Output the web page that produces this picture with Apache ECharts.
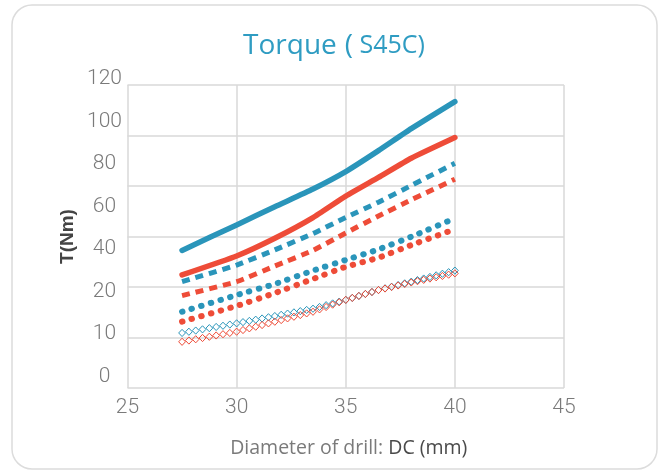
<!DOCTYPE html>
<html>
<head>
<meta charset="utf-8">
<script src="https://cdn.jsdelivr.net/npm/echarts@6/dist/echarts.min.js"></script>
<style>
html,body{margin:0;padding:0;background:#fff;}
#chart{width:668px;height:474px;}
</style>
</head>
<body>
<div id="chart"></div>
<script>
// ---- data ----
var xTicks = [25, 30, 35, 40, 45];
var yTickLabels = ['0', '10', '20', '40', '60', '80', '100', '120'];

var xs = [27.5, 30, 31.75, 33.5, 35, 36.5, 38, 40];
var blueSolid  = [54.5, 64.6, 71.8, 78.8, 85.7, 94.0, 102.7, 113.4];
var redSolid   = [44.8, 52.3, 59.3, 67.5, 76.0, 83.4, 91.0, 99.2];
var blueDashed = [42.1, 48.7, 54.7, 61.2, 67.5, 73.6, 80.2, 89.0];
var redDashed  = [36.6, 42.1, 48.3, 54.5, 61.4, 68.1, 74.5, 82.7];
var blueDotted = [30.2, 36.8, 41.2, 46.5, 50.7, 54.9, 59.9, 67.2];
var redDotted  = [26.3, 32.5, 37.6, 43.2, 48.0, 51.6, 56.6, 62.9];

var diaXs      = [27.5, 30, 33.5, 35, 36.5, 38, 40];
var blueDia    = [21.8, 25.6, 31.4, 34.9, 38.8, 42.1, 46.5];
var redDia     = [18.3, 22.3, 30.2, 34.9, 38.8, 41.8, 45.4];

var BLUE = '#2a95ba';
var RED = '#ee4c38';

function pairs(xArr, yArr) { return xArr.map(function (x, i) { return [x, yArr[i]]; }); }

function lineSeries(name, yArr, color, kind) {
  var ls = { color: color, width: 5.5 };
  if (kind === 'dashed') { ls.type = [8, 6]; ls.width = 5; ls.cap = 'butt'; }
  if (kind === 'dotted') { ls.type = [0.5, 9.5]; ls.width = 6; ls.cap = 'round'; }
  if (kind === 'solid') { ls.cap = 'round'; ls.join = 'round'; }
  return {
    name: name, type: 'line', xAxisIndex: 0, yAxisIndex: 0,
    data: pairs(xs, yArr), showSymbol: false, symbol: 'none', smooth: 0.15,
    lineStyle: ls, itemStyle: { color: color }, z: 3
  };
}

function diamondChain(name, xArr, yArr, color) {
  var pts = pairs(xArr, yArr);
  return {
    name: name, type: 'custom', xAxisIndex: 0, yAxisIndex: 0,
    data: pts, encode: { x: 0, y: 1 }, z: 2,
    renderItem: function (params, api) {
      var i = params.dataIndex;
      if (i >= pts.length - 1) return { type: 'group', children: [] };
      var a = api.coord(pts[i]);
      var b = api.coord(pts[i + 1]);
      var dx = b[0] - a[0], dy = b[1] - a[1];
      var L = Math.sqrt(dx * dx + dy * dy);
      var n = Math.max(1, Math.round(L / 6.6));
      var last = (i === pts.length - 2);
      var children = [];
      for (var k = 0; k < n + (last ? 1 : 0); k++) {
        var t = k / n;
        var cx = a[0] + dx * t, cy = a[1] + dy * t;
        children.push({
          type: 'polygon',
          shape: { points: [[cx, cy - 3.6], [cx + 3.4, cy], [cx, cy + 3.6], [cx - 3.4, cy]] },
          style: { fill: 'none', stroke: color, lineWidth: 1 }
        });
      }
      return { type: 'group', children: children };
    }
  };
}

var chart = echarts.init(document.getElementById('chart'), null, { renderer: 'canvas' });
var option = {
  animation: false,
  backgroundColor: '#ffffff',
  title: {
    left: 'center', top: 27,
    text: '{a|Torque}{b|(}{c| S45C)}',
    textStyle: {
      fontWeight: 'normal',
      rich: {
        a: { fontFamily: 'Open Sans', fontSize: 28, color: '#2f9cc2', fontWeight: 'normal' },
        b: { fontFamily: 'Open Sans', fontSize: 28, color: '#2f9cc2', fontWeight: 'normal', padding: [0, 0, 0, 8] },
        c: { fontFamily: 'Open Sans', fontSize: 25, color: '#2f9cc2', fontWeight: 'normal' }
      }
    }
  },
  graphic: [{
    type: 'rect', silent: true, z: -1,
    shape: { x: 12, y: 5, width: 645, height: 464, r: 20 },
    style: { fill: 'none', stroke: '#dcdcdc', lineWidth: 1.5 }
  }],
  grid: [
    { left: 127.5, right: 104, top: 85, bottom: 86 },
    { left: 127.5, right: 104, top: 79, bottom: 97.3 }
  ],
  xAxis: [
    {
      type: 'value', gridIndex: 0, min: xTicks[0], max: xTicks[xTicks.length - 1], interval: 5,
      axisLine: { show: false }, axisTick: { show: false },
      splitLine: { show: true, lineStyle: { color: '#d8d8d8', width: 1.5 } },
      axisLabel: { fontFamily: 'Roboto', fontWeight: 300, fontSize: 21, color: '#7a7a7a', margin: 9 },
      name: '{a|Diameter of drill: }{b|DC (mm)}',
      nameLocation: 'middle', nameGap: 50,
      nameTextStyle: {
        padding: [0, 0, 0, 6],
        rich: {
          a: { fontFamily: 'Open Sans', fontSize: 19.5, color: '#7a7a7a' },
          b: { fontFamily: 'Open Sans', fontSize: 19.5, color: '#4a4a4a' }
        }
      }
    },
    { type: 'value', gridIndex: 1, show: false, min: 0, max: 1 }
  ],
  yAxis: [
    {
      type: 'value', gridIndex: 0, min: 0, max: 120, interval: 20,
      axisLine: { show: false }, axisTick: { show: false }, axisLabel: { show: false },
      splitLine: { show: true, lineStyle: { color: '#d8d8d8', width: 1.5 } },
      name: 'T(Nm)', nameLocation: 'middle', nameRotate: 90, nameGap: 50,
      nameTextStyle: { fontFamily: 'Liberation Sans', fontWeight: 'bold', fontSize: 19, color: '#444444' }
    },
    {
      type: 'value', gridIndex: 1, min: 0, max: yTickLabels.length - 1, interval: 1,
      axisLine: { show: false }, axisTick: { show: false }, splitLine: { show: false },
      axisLabel: {
        align: 'center', margin: 23,
        fontFamily: 'Roboto', fontWeight: 300, fontSize: 21, color: '#7a7a7a',
        formatter: function (v) { return yTickLabels[Math.round(v)]; }
      }
    }
  ],
  series: [
    diamondChain('Blue diamond', diaXs, blueDia, BLUE),
    diamondChain('Red diamond', diaXs, redDia, RED),
    lineSeries('Blue dotted', blueDotted, BLUE, 'dotted'),
    lineSeries('Red dotted', redDotted, RED, 'dotted'),
    lineSeries('Blue dashed', blueDashed, BLUE, 'dashed'),
    lineSeries('Red dashed', redDashed, RED, 'dashed'),
    lineSeries('Blue solid', blueSolid, BLUE, 'solid'),
    lineSeries('Red solid', redSolid, RED, 'solid')
  ]
};
chart.setOption(option);
</script>
</body>
</html>
